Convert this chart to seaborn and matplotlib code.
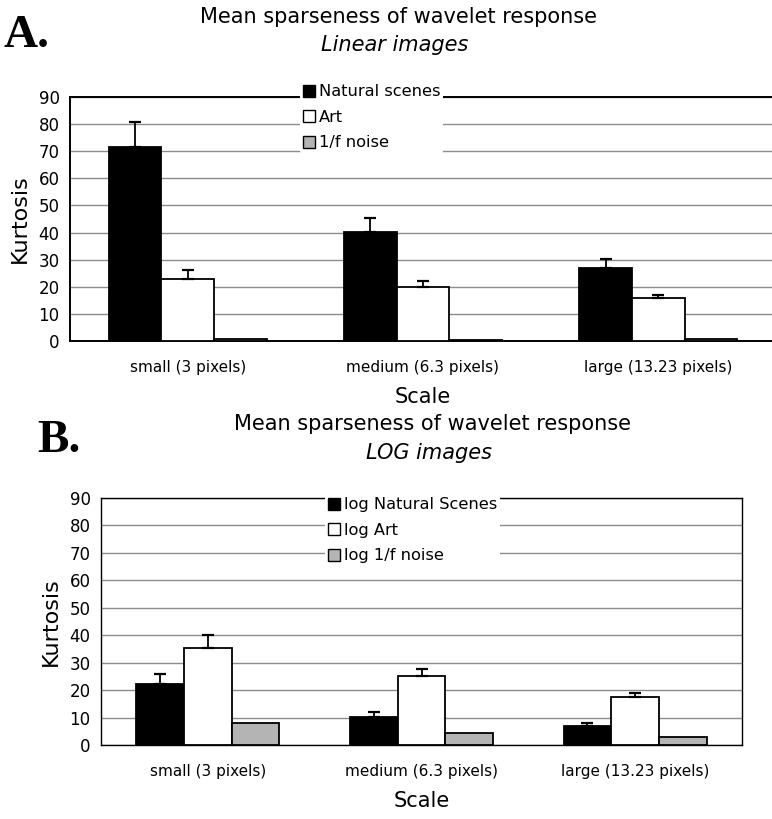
import matplotlib
matplotlib.use("Agg")
import matplotlib.pyplot as plt
from matplotlib.patches import Patch
import numpy as np
import pandas as pd
import seaborn as sns

scales = ["small (3 pixels)", "medium (6.3 pixels)", "large (13.23 pixels)"]

# panel A: linear images
lin_series = ["Natural scenes", "Art", "1/f noise"]
lin_natural = [71.5, 40.3, 26.8]
lin_natural_err = [9.3, 5.1, 3.4]
lin_art = [23.0, 20.0, 15.7]
lin_art_err = [3.3, 2.1, 1.4]
lin_noise = [0.6, 0.5, 0.6]
lin_noise_err = [0, 0, 0]

# panel B: LOG images
log_series = ["log Natural Scenes", "log Art", "log 1/f noise"]
log_natural = [22.2, 10.2, 7.0]
log_natural_err = [3.6, 2.0, 0.9]
log_art = [35.5, 25.3, 17.4]
log_art_err = [4.4, 2.3, 1.5]
log_noise = [8.1, 4.5, 2.8]
log_noise_err = [0, 0, 0]

colors = ["black", "white", "#b4b4b4"]


def make_df(series, values):
    rows = []
    for name, vals in zip(series, values):
        for sc, v in zip(scales, vals):
            rows.append([sc, name, v])
    return pd.DataFrame(rows, columns=["scale", "series", "kurtosis"])


def draw_panel(ax, series, values, errs, legend_xy):
    df = make_df(series, values)
    sns.barplot(data=df, x="scale", y="kurtosis", hue="series", order=scales,
                hue_order=series, palette=colors, edgecolor="black", linewidth=1.3,
                width=0.67, errorbar=None, legend=False, ax=ax, zorder=3)
    for cont, err in zip(ax.containers, errs):
        xs = [b.get_x() + b.get_width() / 2 for b in cont]
        ys = [b.get_height() for b in cont]
        e = np.array(err)
        mask = e > 0
        if mask.any():
            ax.errorbar(np.array(xs)[mask], np.array(ys)[mask],
                        yerr=[np.zeros(mask.sum()), e[mask]], fmt="none",
                        ecolor="black", elinewidth=1.3, capsize=4, capthick=1.6, zorder=4)
    ax.set_ylim(0, 90)
    ax.set_yticks(range(0, 91, 10))
    ax.set_xlim(-0.5, 2.5)
    ax.set_xticks([0, 1, 2])
    ax.set_xticklabels(scales)
    ax.set_xticks([-0.5, 0.5, 1.5, 2.5], minor=True)
    ax.tick_params(axis="x", which="major", length=0, pad=14, labelsize=11, labelcolor="black")
    ax.tick_params(axis="x", which="minor", length=5, color="#888888")
    ax.tick_params(axis="y", length=4, labelsize=12, labelcolor="black", color="black")
    ax.yaxis.grid(True, color="#8c8c8c", linewidth=1, zorder=0)
    ax.set_axisbelow(True)
    ax.set_xlabel("Scale", fontsize=15, labelpad=8, color="black")
    ax.set_ylabel("Kurtosis", fontsize=16, labelpad=6, color="black")
    handles = [Patch(facecolor=c, edgecolor="black", linewidth=1) for c in colors]
    fig = ax.figure
    leg = ax.legend(handles, series, loc="upper left", bbox_to_anchor=legend_xy,
                    bbox_transform=fig.transFigure, frameon=True, fontsize=11.7,
                    handlelength=0.75, handleheight=0.75, handletextpad=0.2,
                    labelspacing=0.65, borderpad=0.2, borderaxespad=0,
                    labelcolor="black")
    leg.get_frame().set_edgecolor("none")
    leg.get_frame().set_facecolor("white")
    leg.get_frame().set_alpha(1)
    leg.set_zorder(10)


sns.set_theme(style="white")
plt.rcParams["font.family"] = ["DejaVu Sans"]
plt.rcParams["text.color"] = "black"

W, H = 772, 819
fig = plt.figure(figsize=(W / 100, H / 100), dpi=100)

axA = fig.add_axes([70 / W, 1 - 341 / H, (776 - 70) / W, (341 - 97) / H])
draw_panel(axA, lin_series, [lin_natural, lin_art, lin_noise],
           [lin_natural_err, lin_art_err, lin_noise_err], (300 / W, 1 - 81 / H))
for s in ["left", "bottom", "top"]:
    axA.spines[s].set_color("black")
    axA.spines[s].set_linewidth(1.4)
axA.spines["right"].set_visible(False)

axB = fig.add_axes([101 / W, 1 - 745 / H, (742 - 101) / W, (745 - 498) / H])
draw_panel(axB, log_series, [log_natural, log_art, log_noise],
           [log_natural_err, log_art_err, log_noise_err], (325 / W, 1 - 494 / H))
for s in axB.spines.values():
    s.set_color("black")
    s.set_linewidth(1.0)

fig.text(398 / W, 1 - 17 / H, "Mean sparseness of wavelet response", ha="center", va="center", fontsize=15)
fig.text(395 / W, 1 - 45 / H, "Linear images", ha="center", va="center", fontsize=15, style="italic")
fig.text(433 / W, 1 - 424 / H, "Mean sparseness of wavelet response", ha="center", va="center", fontsize=15)
fig.text(429 / W, 1 - 453 / H, "LOG images", ha="center", va="center", fontsize=15, style="italic")

fig.text(4 / W, 1 - 47 / H, "A.", fontsize=34, fontweight="bold", family="Liberation Serif")
fig.text(37 / W, 1 - 452 / H, "B.", fontsize=34, fontweight="bold", family="Liberation Serif")

fig.savefig("out.png", dpi=100)
